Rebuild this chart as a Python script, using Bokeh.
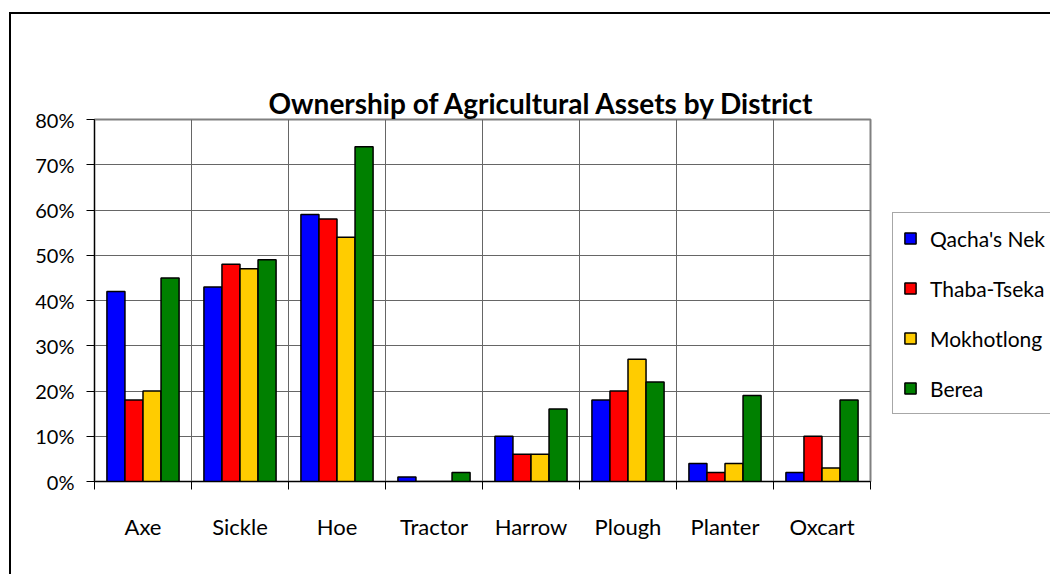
from bokeh.plotting import figure
from bokeh.models import (ColumnDataSource, Range1d, LinearAxis, FixedTicker,
                          NumeralTickFormatter, Title)
from bokeh.embed import file_html
from bokeh.resources import INLINE

categories = ["Axe", "Sickle", "Hoe", "Tractor", "Harrow", "Plough", "Planter", "Oxcart"]
qachas_nek = [0.42, 0.43, 0.59, 0.01, 0.10, 0.18, 0.04, 0.02]
thaba_tseka = [0.18, 0.48, 0.58, 0.00, 0.06, 0.20, 0.02, 0.10]
mokhotlong = [0.20, 0.47, 0.54, 0.00, 0.06, 0.27, 0.04, 0.03]
berea = [0.45, 0.49, 0.74, 0.02, 0.16, 0.22, 0.19, 0.18]
series_names = ["Qacha's Nek", "Thaba-Tseka", "Mokhotlong", "Berea"]
series_colors = ["#0000FF", "#FF0000", "#FFCC00", "#008000"]
y_ticks = [0.0, 0.1, 0.2, 0.3, 0.4, 0.5, 0.6, 0.7, 0.8]
title_text = "Ownership of Agricultural Assets by District"

FONT = "Lato"
GRID = "#666666"

n = len(categories)
bounds = list(range(n + 1))
centers = [i + 0.5 for i in range(n)]
series = [qachas_nek, thaba_tseka, mokhotlong, berea]

p = figure(x_range=Range1d(0, n), y_range=Range1d(0, y_ticks[-1]),
           frame_width=776, frame_height=362,
           min_border_left=83, min_border_top=105, min_border_right=180, min_border_bottom=93,
           x_axis_location=None, title=None,
           output_backend="svg", toolbar_location=None,
           background_fill_color="white", border_fill_color="white")
p.outline_line_color = "#808080"
p.outline_line_width = 2
p.styles = {"margin-left": "9px", "margin-top": "12px",
            "border-left": "2px solid black", "border-top": "2px solid black"}

# y axis
ya = p.yaxis[0]
ya.ticker = FixedTicker(ticks=y_ticks)
ya.formatter = NumeralTickFormatter(format="0%")
ya.major_label_text_font = FONT
ya.major_label_text_font_size = "20px"
ya.major_label_text_color = "black"
ya.major_label_standoff = 12
ya.major_tick_out = 8
ya.major_tick_in = 0
ya.minor_tick_line_color = None
ya.axis_line_color = "black"
ya.major_tick_line_color = "black"

# x axis: labels at category centres, ticks at category boundaries
xa = LinearAxis(ticker=FixedTicker(ticks=centers, minor_ticks=bounds),
                major_label_overrides={c: name for c, name in zip(centers, categories)})
xa.axis_line_color = "black"
xa.major_tick_line_color = None
xa.major_tick_out = 8
xa.major_tick_in = 0
xa.minor_tick_line_color = "black"
xa.minor_tick_out = 8
xa.minor_tick_in = 0
xa.major_label_standoff = 23
xa.major_label_text_font = FONT
xa.major_label_text_font_size = "22px"
xa.major_label_text_color = "black"
p.add_layout(xa, "below")

p.ygrid.ticker = FixedTicker(ticks=y_ticks)
p.ygrid.grid_line_color = GRID
p.xgrid.ticker = FixedTicker(ticks=bounds[1:-1])
p.xgrid.grid_line_color = GRID

w = 0.186
offsets = [-1.5 * w, -0.5 * w, 0.5 * w, 1.5 * w]
for k, (name, col, vals) in enumerate(zip(series_names, series_colors, series)):
    src = ColumnDataSource(dict(x=[c + offsets[k] for c in centers], top=vals))
    p.vbar(x="x", top="top", width=w, source=src, fill_color=col,
           line_color="black", line_width=1.5, legend_label=name)

lg = p.legend[0]
p.center.remove(lg)
lg.location = (22, 67)
lg.border_line_color = "#505050"
lg.border_line_width = 1.5
lg.background_fill_color = "white"
lg.glyph_width = 14
lg.glyph_height = 14
lg.label_standoff = 13
lg.label_height = 30
lg.label_width = 120
lg.spacing = 20
lg.padding = 10
lg.margin = 0
lg.label_text_font = FONT
lg.label_text_font_size = "21px"
lg.label_text_color = "black"
p.add_layout(lg, "right")

# title first, then an invisible spacer (no ticks, labels or line) next to the frame
p.add_layout(Title(text=title_text, align="left", offset=174, standoff=0,
                   vertical_align="bottom", text_font=FONT, text_font_style="bold",
                   text_font_size="28px", text_color="black"), "above")

spacer = LinearAxis(ticker=FixedTicker(ticks=[]))
spacer.major_tick_out = 52
spacer.major_tick_in = 0
spacer.major_tick_line_color = None
spacer.minor_tick_line_color = None
spacer.axis_line_color = None
spacer.major_label_standoff = 0
p.add_layout(spacer, "above")

open("out.html", "w").write(file_html(p, INLINE))
